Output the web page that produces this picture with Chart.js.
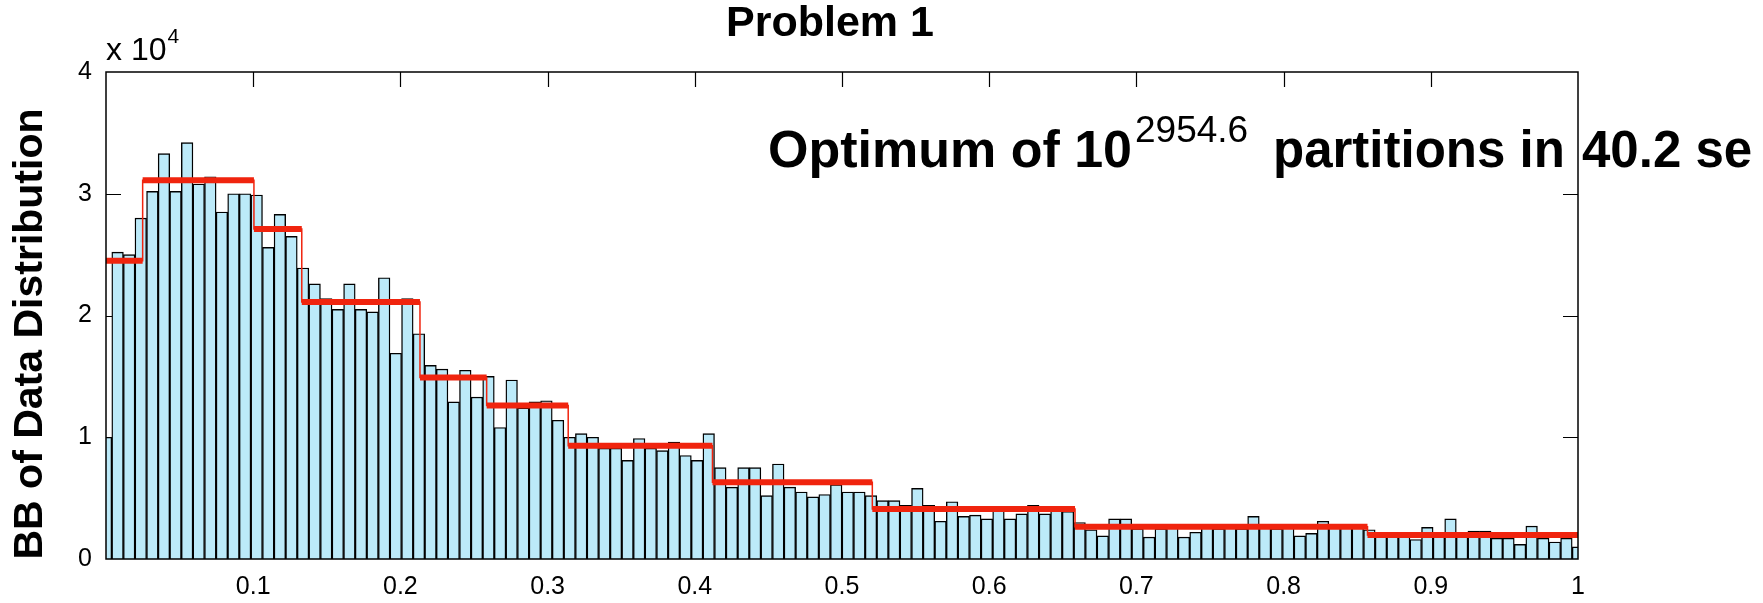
<!DOCTYPE html>
<html>
<head>
<meta charset="utf-8">
<script src="https://cdn.jsdelivr.net/npm/chart.js@4.4.1/dist/chart.umd.min.js"></script>
<style>
  html, body { margin: 0; padding: 0; background: #ffffff; }
  #wrap { width: 1763px; height: 603px; }
</style>
</head>
<body>
<div id="wrap"><canvas id="c" width="1763" height="603"></canvas></div>
<script>
// Histogram of the data: 128 bins centred on i/127 over [0, 1]
const binCount = 128;
const counts = [
  10000, 25200, 25000, 28000, 30200, 33300, 30200, 34200, 30800, 31400,
  28500, 30000, 30000, 29900, 25600, 28300, 26500, 23900, 22600, 21400,
  20500, 22600, 20500, 20300, 23100, 16900, 21400, 18500, 15900, 15600,
  12900, 15500, 13300, 15000, 10800, 14700, 12400, 12900, 13000, 11400,
  10000, 10300, 10000,  9100,  9100,  8100,  9900,  9100,  8900,  9600,
   8500,  8100, 10300,  7500,  5900,  7500,  7500,  5200,  7800,  5900,
   5500,  5100,  5300,  6100,  5500,  5500,  5200,  4800,  4800,  4400,
   5800,  4400,  3100,  4700,  3500,  3600,  3300,  4000,  3300,  3700,
   4400,  3700,  4000,  3900,  3000,  2400,  1900,  3300,  3300,  2500,
   1800,  2500,  2600,  1800,  2200,  2600,  2500,  2600,  2500,  3500,
   2600,  2500,  2600,  1900,  2100,  3100,  2700,  2800,  2700,  2400,
   2000,  2100,  2000,  1600,  2600,  2100,  3300,  2000,  2300,  2300,
   1700,  1700,  1200,  2700,  1700,  1400,  1700,  1000
];

// Bayesian-block partition: block edges and the rate inside each block
const blockEdges = [0, 0.0249, 0.1005, 0.133, 0.2133, 0.2586, 0.314, 0.412, 0.5206, 0.6583, 0.857, 1];
const blockRates = [24500, 31100, 27100, 21100, 14900, 12600, 9300, 6300, 4100, 2650, 1970];

// Axis ticks
const xTicks = [0.1, 0.2, 0.3, 0.4, 0.5, 0.6, 0.7, 0.8, 0.9, 1];
const yTicks = [0, 1, 2, 3, 4];
const yScaleFactor = 10000;

const titleText = 'Problem 1';
const yLabelText = 'BB of Data Distribution';
const notePieces = ['Optimum of 10', '2954.6', 'partitions in', '40.2 se'];

const FONT = '"Liberation Sans", Arial, Helvetica, sans-serif';
const RED = 'rgb(240,36,14)';

const barPoints = counts.map((v, i) => ({ x: i / (binCount - 1), y: v }));

// thin connecting step line through all blocks
const stepPoints = blockRates.map((r, k) => ({ x: blockEdges[k], y: r }));
stepPoints.push({ x: blockEdges[blockEdges.length - 1], y: blockRates[blockRates.length - 1] });

// thick horizontal level of each block, separated by gaps
const levelPoints = [];
blockRates.forEach((r, k) => {
  levelPoints.push({ x: blockEdges[k], y: r });
  levelPoints.push({ x: blockEdges[k + 1], y: r });
  if (k < blockRates.length - 1) levelPoints.push({ x: blockEdges[k + 1], y: null });
});

const TICK_LEN = 15;

const frame = {
  id: 'frame',
  beforeDatasetsDraw(chart) {
    const { ctx, chartArea: a, scales: { x, y } } = chart;
    ctx.save();
    ctx.strokeStyle = '#000';
    ctx.lineWidth = 1.2;
    ctx.beginPath();
    x.ticks.forEach(t => {
      if (t.value <= 0 || t.value >= 1) return;
      const px = Math.round(x.getPixelForValue(t.value)) + 0.5;
      ctx.moveTo(px, a.bottom); ctx.lineTo(px, a.bottom - TICK_LEN);
      ctx.moveTo(px, a.top); ctx.lineTo(px, a.top + TICK_LEN);
    });
    y.ticks.forEach(t => {
      if (t.value <= 0 || t.value >= 40000) return;
      const py = Math.round(y.getPixelForValue(t.value)) + 0.5;
      ctx.moveTo(a.left, py); ctx.lineTo(a.left + TICK_LEN, py);
      ctx.moveTo(a.right, py); ctx.lineTo(a.right - TICK_LEN, py);
    });
    ctx.stroke();
    ctx.restore();
  },
  afterDraw(chart) {
    const { ctx, chartArea: a } = chart;
    ctx.save();
    ctx.strokeStyle = '#000';
    ctx.lineWidth = 1.5;
    ctx.strokeRect(a.left, a.top, a.right - a.left, a.bottom - a.top);

    ctx.fillStyle = '#000';
    // title
    ctx.font = 'bold 43px ' + FONT;
    ctx.textAlign = 'center';
    ctx.textBaseline = 'alphabetic';
    ctx.fillText(titleText, 830, 36);

    // exponent label of the y axis
    ctx.textAlign = 'left';
    ctx.font = '32px ' + FONT;
    const base = 'x 10';
    ctx.fillText(base, a.left, 60);
    const bw = ctx.measureText(base).width;
    ctx.font = '21px ' + FONT;
    ctx.fillText('4', a.left + bw + 1, 43);

    // y axis label
    ctx.save();
    ctx.translate(31, 334);
    ctx.rotate(-Math.PI / 2);
    ctx.font = 'bold 41px ' + FONT;
    ctx.textAlign = 'center';
    ctx.textBaseline = 'middle';
    ctx.fillText(yLabelText, 0, 0);
    ctx.restore();

    // annotation
    ctx.font = 'bold 52px ' + FONT;
    ctx.fillText(notePieces[0], 768, 167);
    ctx.font = '37px ' + FONT;
    ctx.fillText(notePieces[1], 1135, 142);
    ctx.font = 'bold 51px ' + FONT;
    ctx.fillText(notePieces[2], 1273, 167);
    ctx.fillText(notePieces[3], 1582, 167);
    ctx.restore();
  }
};

new Chart(document.getElementById('c'), {
  type: 'bar',
  data: {
    datasets: [
      {
        type: 'line',
        data: levelPoints,
        borderColor: RED,
        borderWidth: 6,
        pointRadius: 0,
        spanGaps: false,
        fill: false,
        clip: 0,
        order: 0
      },
      {
        type: 'line',
        data: stepPoints,
        stepped: 'before',
        borderColor: RED,
        borderWidth: 1.5,
        pointRadius: 0,
        fill: false,
        clip: 0,
        order: 1
      },
      {
        type: 'bar',
        data: barPoints,
        backgroundColor: 'rgb(188,234,249)',
        borderColor: '#000',
        borderWidth: 1.4,
        borderSkipped: 'start',
        barPercentage: 1,
        categoryPercentage: 1,
        clip: 0,
        order: 2
      }
    ]
  },
  options: {
    responsive: false,
    devicePixelRatio: 1,
    animation: false,
    events: [],
    layout: { padding: { left: 0, right: 185, top: 72, bottom: 0 } },
    plugins: { legend: { display: false }, tooltip: { enabled: false }, title: { display: false } },
    scales: {
      x: {
        type: 'linear',
        min: 0,
        max: 1,
        offset: false,
        grid: { display: false, drawTicks: false, offset: false },
        border: { display: false },
        afterBuildTicks(scale) {
          scale.ticks = [{ value: 0 }].concat(xTicks.map(v => ({ value: v })));
        },
        ticks: {
          autoSkip: false,
          maxRotation: 0,
          padding: 13,
          color: '#000',
          font: { family: FONT, size: 25 },
          callback: v => (v === 0 ? '' : String(+v.toFixed(1)))
        },
        afterFit(scale) { scale.height = 44; }
      },
      y: {
        min: 0,
        max: 40000,
        grid: { display: false, drawTicks: false },
        border: { display: false },
        afterBuildTicks(scale) {
          scale.ticks = yTicks.map(v => ({ value: v * yScaleFactor }));
        },
        ticks: {
          padding: 14,
          color: '#000',
          font: { family: FONT, size: 25 },
          callback: v => String(v / yScaleFactor)
        },
        afterFit(scale) { scale.width = 106; }
      }
    }
  },
  plugins: [frame]
});
</script>
</body>
</html>
